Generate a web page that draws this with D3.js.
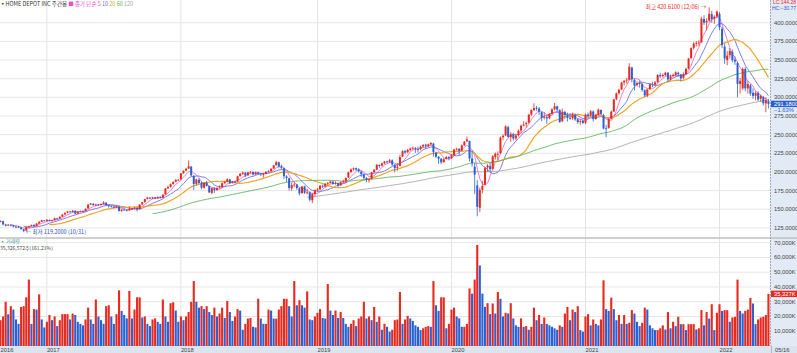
<!DOCTYPE html>
<html><head><meta charset="utf-8">
<script src="https://cdn.jsdelivr.net/npm/d3@7"></script>
<style>
body{margin:0;background:#fff;}
svg{display:block;}
.ax{font-family:"Liberation Sans Narrow","Liberation Sans",sans-serif;font-size:5.8px;fill:#444;}
.kr{font-family:"Noto Sans CJK KR","Noto Sans",sans-serif;font-size:6px;}
</style>
</head><body>
<svg id="c" width="797" height="353"></svg>
<script>
// ---------- DATA (weekly, HOME DEPOT INC) ----------
const startDate = "2016-08-29";
const opens = [
133.0,134.0,129.5,128.0,129.0,128.5,126.6,126.3,125.5,123.0,
121.5,126.0,127.4,128.8,127.6,130.8,133.2,135.0,134.2,135.6,
134.5,135.4,137.8,137.6,140.0,143.0,145.2,147.0,146.3,148.0,
144.2,146.9,147.5,147.4,151.0,156.2,157.5,155.4,156.2,155.5,
157.0,158.8,155.5,154.0,153.5,152.3,153.8,147.7,149.5,149.2,
148.5,150.5,151.0,152.0,149.8,156.4,159.5,163.7,165.5,164.4,
166.0,164.6,166.4,165.5,169.8,178.0,180.0,183.8,186.8,189.3,
190.0,198.2,201.8,204.5,207.0,194.5,184.0,189.5,185.5,179.0,
185.5,181.0,172.0,178.0,175.8,178.5,179.5,185.0,186.8,190.0,
185.0,187.0,187.0,194.5,197.5,199.0,195.5,199.6,200.0,196.8,
199.5,197.8,196.5,197.5,200.2,201.0,204.5,209.0,213.0,207.0,
205.0,194.0,191.5,178.0,182.8,183.0,178.0,171.5,180.5,172.0,
172.5,162.0,170.5,175.2,176.5,181.5,180.5,184.2,185.0,187.0,
184.0,185.0,182.0,186.5,187.5,192.5,199.8,203.5,205.0,203.5,
200.5,196.0,192.0,189.5,190.5,199.5,203.0,209.5,208.5,211.5,
214.0,213.5,215.5,209.0,205.5,208.0,220.5,228.0,226.5,229.5,
231.5,232.0,230.5,230.5,234.0,236.5,235.0,237.0,238.0,226.0,
220.5,217.5,213.0,217.5,220.0,218.5,222.5,230.0,231.0,228.5,
235.5,241.0,241.5,218.0,207.0,182.0,152.0,176.0,183.0,206.0,
208.0,204.0,220.0,224.0,225.0,246.5,249.0,260.0,246.5,250.5,
245.0,249.5,255.5,262.0,264.0,266.0,277.0,283.0,286.0,285.0,
280.0,273.0,273.5,272.0,278.0,284.0,288.0,283.0,268.0,280.5,
276.0,272.0,272.0,276.5,270.5,267.0,268.5,266.0,277.0,275.5,
281.0,271.0,276.5,283.0,276.0,258.5,259.0,271.5,281.0,297.5,
305.5,310.5,320.0,322.5,323.5,340.0,323.5,316.5,319.0,318.0,
309.5,302.5,311.0,317.5,317.0,320.5,330.0,328.5,330.0,333.0,
324.0,328.5,330.0,333.0,330.5,326.0,331.0,338.5,352.5,366.5,
372.0,373.0,374.0,405.0,400.5,403.0,411.5,405.5,408.5,412.0,
392.0,368.0,350.0,356.5,361.0,350.5,346.0,318.0,312.0,338.0,
312.0,316.0,306.0,302.0,306.0,298.0,300.0,292.0,295.0];
const highs = [
135.0,134.5,130.5,130.3,129.9,129.0,128.0,127.5,126.0,123.8,
127.0,128.0,129.5,130.0,131.5,134.5,135.8,135.5,136.9,136.4,
136.0,138.8,138.5,140.5,143.5,145.9,147.5,147.8,148.8,148.5,
147.5,148.3,148.6,151.0,156.9,158.3,158.0,157.5,157.0,157.8,
160.8,159.5,156.0,155.2,154.5,155.0,154.0,150.2,151.0,150.0,
153.5,151.8,152.8,152.4,156.6,160.0,164.0,166.8,166.5,166.5,
166.4,167.2,167.6,170.5,178.5,181.6,184.5,187.4,190.2,190.7,
198.5,202.0,205.5,215.4,208.0,196.0,191.0,191.5,187.0,186.0,
188.0,182.0,178.8,179.5,179.5,182.0,186.0,188.0,191.5,191.0,
188.0,188.5,195.0,198.5,200.5,200.0,200.3,201.2,200.6,200.5,
200.3,198.5,199.0,201.0,202.5,205.0,209.5,215.0,214.0,210.0,
205.5,195.5,192.5,186.0,186.8,184.0,179.0,181.0,181.5,177.5,
174.0,171.5,176.5,178.5,182.5,183.0,185.0,186.5,188.5,188.0,
187.5,185.5,187.0,189.5,192.5,200.5,204.5,206.0,206.0,205.0,
201.5,198.0,193.0,191.5,200.0,204.0,210.5,210.0,212.5,214.8,
215.0,217.5,217.0,210.5,212.0,223.0,229.0,229.5,231.0,233.0,
234.0,233.5,234.0,235.5,237.5,237.8,238.0,239.8,239.0,227.0,
221.5,219.0,218.5,221.5,221.5,224.0,231.0,232.5,232.0,237.0,
241.5,247.4,242.0,227.5,212.0,189.0,179.0,188.0,206.5,210.5,
212.0,222.5,226.0,227.5,247.5,250.5,262.5,262.0,253.5,252.5,
251.0,257.0,263.5,268.0,267.5,278.0,284.0,292.0,288.5,287.0,
281.0,280.0,275.5,279.0,285.5,292.5,289.0,284.0,285.0,282.0,
279.5,278.5,279.5,278.0,272.0,271.0,270.0,278.5,279.5,283.0,
282.5,278.0,285.0,284.0,278.0,263.0,272.0,282.5,298.0,306.5,
311.5,321.0,323.5,326.0,345.7,341.0,325.0,321.5,322.5,319.0,
311.0,311.5,318.5,321.0,322.0,331.0,333.0,332.0,334.5,334.0,
330.5,332.0,335.0,334.5,331.5,333.5,340.0,353.0,367.0,374.0,
375.5,376.5,408.0,410.0,406.0,420.61,416.0,410.0,416.5,414.5,
395.0,372.0,362.0,366.0,364.0,355.0,348.0,326.0,340.0,340.5,
322.0,318.0,312.0,308.0,308.0,304.0,302.0,300.0,298.0];
const lows = [
132.5,128.5,126.8,127.5,127.2,125.8,124.5,124.8,122.5,119.2,
121.0,125.0,126.8,126.5,127.0,130.2,132.8,133.6,133.5,133.8,
133.5,135.0,136.0,137.0,139.5,142.0,144.5,145.5,145.8,143.5,
143.8,146.0,146.5,147.0,150.8,155.6,154.8,153.8,154.5,155.0,
156.5,154.5,152.5,152.6,151.0,151.6,146.9,146.5,148.2,146.8,
148.0,149.0,150.2,146.9,149.5,156.0,158.8,163.0,163.5,163.8,
163.3,164.0,164.5,164.8,169.5,177.0,179.0,182.8,186.0,188.5,
189.8,197.5,201.0,204.0,194.0,175.8,181.5,184.0,176.5,177.5,
180.5,171.5,170.0,171.8,174.6,177.5,178.8,184.0,186.0,183.8,
184.5,184.8,186.5,193.8,196.0,193.0,194.5,198.0,195.5,196.0,
196.5,194.5,192.5,197.0,199.5,200.5,204.0,208.5,206.0,203.5,
190.5,186.5,175.0,174.5,180.0,176.0,168.5,171.0,170.5,170.0,
160.5,158.1,167.0,173.5,176.0,178.5,179.0,182.0,184.5,183.0,
183.0,179.5,181.5,185.0,185.5,192.0,199.0,201.5,201.5,199.0,
193.5,190.0,186.0,185.5,190.0,198.8,202.5,205.5,207.5,210.5,
211.5,212.0,208.0,199.5,201.5,207.5,220.0,223.5,225.0,228.0,
229.5,225.5,226.0,229.0,232.5,231.5,233.0,235.5,220.5,218.5,
211.0,210.5,212.5,217.0,215.5,217.5,221.5,228.5,222.5,228.0,
235.0,240.0,214.0,207.0,170.5,140.6,146.0,171.0,182.0,200.0,
199.5,203.0,216.5,215.5,224.5,243.0,248.0,246.0,240.5,242.0,
242.5,247.5,252.0,261.0,259.5,265.0,275.0,281.5,282.0,276.5,
268.0,270.5,264.5,270.5,276.5,282.5,281.0,266.0,267.0,271.0,
267.5,270.0,269.5,268.5,264.5,263.5,264.5,264.0,272.5,274.5,
267.5,270.0,275.5,276.5,257.0,246.6,258.0,270.5,280.5,296.0,
303.5,309.5,316.0,318.5,323.0,320.0,309.0,314.5,313.0,307.5,
300.5,300.0,310.0,313.5,315.5,319.5,326.0,326.5,328.0,320.5,
322.5,326.5,328.0,328.0,321.5,324.0,330.0,337.5,351.5,364.0,
368.0,369.0,373.0,397.0,390.0,401.0,400.0,398.5,406.0,390.0,
366.0,345.0,343.0,352.0,347.0,343.5,300.0,305.0,310.0,308.0,
305.0,302.0,298.0,296.0,295.0,294.0,289.0,280.0,285.0];
const closes = [
134.3,129.6,127.9,129.3,128.6,126.7,126.4,125.6,123.3,120.9,
125.9,127.2,128.9,127.5,130.7,133.0,135.2,134.1,135.8,134.5,
135.2,137.8,137.5,139.9,142.9,145.0,147.1,146.2,148.0,144.1,
146.8,147.6,147.3,150.6,156.1,157.6,155.5,156.0,155.4,156.9,
158.9,155.6,154.0,153.4,152.2,153.9,147.6,149.4,149.2,148.4,
150.4,151.0,152.2,149.7,156.3,159.4,163.6,165.6,164.3,165.9,
164.5,166.3,165.5,169.5,177.9,179.8,183.6,186.5,189.4,189.5,
198.1,201.5,204.3,207.6,195.4,183.8,189.9,185.1,178.8,185.5,
181.1,172.6,178.2,175.5,178.3,179.2,184.8,186.5,190.1,184.9,
187.2,186.6,194.2,197.6,199.1,195.1,199.5,200.2,196.6,199.6,
197.7,196.8,197.4,200.0,200.9,204.2,208.8,213.2,207.2,205.5,
194.3,192.0,178.5,182.6,183.0,178.4,171.3,180.3,172.1,172.5,
162.8,170.6,175.0,176.4,181.5,180.3,184.1,185.3,187.2,183.9,
185.1,181.9,186.2,187.5,191.9,199.5,203.4,204.9,203.1,201.0,
197.0,192.0,189.6,189.8,199.4,202.8,209.5,208.0,211.6,213.9,
213.0,215.6,210.0,205.3,207.0,220.0,227.8,226.0,229.5,231.2,
232.4,231.0,230.1,233.8,236.1,234.9,237.0,238.7,226.5,220.5,
217.7,212.9,217.0,220.0,218.3,222.4,230.0,230.9,228.1,235.5,
240.5,243.5,218.0,212.0,196.5,153.2,176.0,181.3,205.0,208.6,
203.5,221.0,224.5,224.1,246.0,248.4,261.0,247.0,250.5,244.8,
249.0,255.2,262.0,263.5,265.5,276.8,283.0,285.6,284.8,280.6,
272.6,273.8,271.7,277.7,283.9,288.0,283.6,266.7,280.1,276.3,
272.4,271.5,276.7,270.5,266.9,268.2,265.6,276.7,275.0,281.2,
270.8,276.5,283.5,278.0,258.2,258.0,271.0,280.8,297.3,305.3,
310.0,320.0,322.0,323.7,341.0,324.0,316.0,319.0,318.0,310.0,
302.5,310.5,317.5,317.0,320.0,330.0,328.2,330.0,333.0,324.0,
328.0,330.0,333.5,331.0,325.5,331.0,338.0,352.0,366.0,372.0,
373.0,373.5,405.5,400.0,402.5,412.0,405.0,408.0,415.0,394.0,
370.0,352.0,356.0,362.0,350.0,348.0,318.0,322.0,338.0,312.0,
318.0,305.0,302.0,306.0,297.0,302.0,292.0,296.0,291.18];
const volumes = [ // thousands of shares
17500,20000,30000,21500,27000,24700,18000,15000,26500,27000,
33000,45000,15000,25000,24700,35000,18000,12600,16400,21000,
17500,20000,13500,17500,21600,21600,21600,18000,22000,21000,
16400,15000,14000,18000,26000,18000,15000,31500,20000,17500,
15000,27000,27600,20000,15000,21600,37700,23800,21000,18700,
37300,18700,24700,33000,33000,19300,20000,15000,13500,18000,
18700,16400,15000,31500,20000,16400,29000,29600,24000,16400,
20000,17500,20000,
23000,30000,44000,30000,26000,27000,25000,27000,23000,21000,
26000,20000,22000,26000,19000,30500,23000,17000,20000,25000,
24000,11000,15000,18600,19000,13000,12600,32000,18600,15000,
15000,24700,24000,18600,18600,24700,27000,32000,32000,27000,
20000,44000,27600,31000,27600,26000,37000,18000,17500,20000,
22500,25000,19000,18600,42000,24000,21000,24000,19000,23000,
19000,15000,13000,15000,17500,13500,18600,20000,30000,18600,
20000,17500,26500,16400,20000,11000,
15000,13000,9700,11000,17500,18000,36600,15000,18000,20400,
18700,17000,14000,13000,10800,12000,13000,13500,13000,44000,
27600,23800,33000,33000,12000,15000,24700,26000,20000,18700,
13000,13000,
15000,39000,35500,45000,68500,54600,35500,26500,29000,21600,
28800,22000,36600,32000,20000,22500,22000,29000,18700,14000,
13000,18700,13000,13500,11000,13000,26000,17500,21000,15000,
19300,15000,14000,13000,12000,11000,14000,13000,22000,26500,17500,24700,
23000,27000,10800,9700,20000,21600,14000,18000,15000,14000,
18000,44500,25000,23800,32800,25000,17500,21000,15000,21000,
15000,15700,24300,22000,16400,13500,15700,26000,24700,14000,
12000,10800,10800,12000,14000,11200,23000,12000,16400,13500,
19800,14800,14800,10800,14800,14800,14800,11200,12000,24300,
14000,23000,18600,28300,10800,22500,28300,23800,24300,24300,
16400,19300,19800,45000,23800,22000,23800,24700,32600,28800,
14800,18000,19300,19800,21000,35326.572];
const priceTicks = [125,150,175,200,225,250,275,300,325,350,375,400];
const volumeTicks = [10000,20000,30000,40000,50000,60000,70000];
const maPeriods = [5,10,20,60,120];
const maColors = ["#ee6fcf","#6f6fe3","#f0a526","#62b862","#a9a9a9"];
const legendTitle = "HOME DEPOT INC";
const highNote = "최고 420.6100 (12/06)";
const lowNote = "최저 119.2000 (10/31)";
const lastDateLabel = "05/16";
const volumeRatioText = "(161.21%)";

// ---------- DRAW ----------
const svg = d3.select("#c");
const n = closes.length;
const plotR = 770, priceBot = 237.2, volBot = 346, axisTop = 345.5;
const x = d3.scaleLinear().domain([0, n - 1]).range([0.5, 0.5 + (n - 1) * 2.577]);
const y = d3.scaleLinear().domain([112.5, 430.5]).range([priceBot, 0]);
const yv = d3.scaleLinear().domain([0, 70000]).range([volBot, 242.7]);
const parse = d3.timeParse("%Y-%m-%d");
const d0 = parse(startDate);
const dates = d3.range(n).map(i => d3.timeDay.offset(d0, 7 * i));

if ([opens, highs, lows, volumes].some(a => a.length !== n)) {
  svg.append("text").attr("x", 300).attr("y", 150).attr("fill", "red")
    .text("len " + [opens.length, highs.length, lows.length, closes.length, volumes.length].join(","));
}

// backgrounds
svg.append("rect").attr("x", 0).attr("y", 0).attr("width", 797).attr("height", 353).attr("fill", "#fff");
svg.append("rect").attr("x", plotR).attr("y", 0).attr("width", 797 - plotR).attr("height", axisTop).attr("fill", "#e2eaf5");
svg.append("rect").attr("x", 0).attr("y", axisTop).attr("width", 797).attr("height", 353 - axisTop).attr("fill", "#dbe4ef");

// grid lines
const yearIdx = d3.range(1, n).filter(i => dates[i].getFullYear() !== dates[i - 1].getFullYear());
const g = svg.append("g");
g.selectAll("line.vg").data(yearIdx).join("line")
  .attr("x1", i => x(i)).attr("x2", i => x(i)).attr("y1", 0).attr("y2", axisTop)
  .attr("stroke", "#e3e3e3").attr("stroke-width", 1);
g.selectAll("line.hg").data(priceTicks).join("line")
  .attr("x1", 0).attr("x2", plotR).attr("y1", d => y(d)).attr("y2", d => y(d))
  .attr("stroke", "#e6e6e6").attr("stroke-width", 1);
g.selectAll("line.vgv").data(volumeTicks).join("line")
  .attr("x1", 0).attr("x2", plotR).attr("y1", d => yv(d)).attr("y2", d => yv(d))
  .attr("stroke", "#e6e6e6").attr("stroke-width", 1);

// panel separator
svg.append("rect").attr("x", 0).attr("y", 237.2).attr("width", 797).attr("height", 1.6).attr("fill", "#c4c4c4");

// volume bars (red when volume rises vs previous week)
const upC = "#e8291f", dnC = "#2a62d4";
svg.append("g").selectAll("rect").data(volumes).join("rect")
  .attr("x", (d, i) => x(i) - 1.05).attr("width", 2.1)
  .attr("y", d => yv(d)).attr("height", d => volBot - yv(d))
  .attr("fill", (d, i) => (i === 0 || d >= volumes[i - 1]) ? upC : dnC);

// moving averages
maPeriods.forEach((p, k) => {
  const pts = [];
  for (let i = p - 1; i < n; i++) pts.push([i, d3.mean(closes.slice(i - p + 1, i + 1))]);
  svg.append("path").datum(pts)
    .attr("d", d3.line().x(d => x(d[0])).y(d => y(d[1])))
    .attr("fill", "none").attr("stroke", maColors[k]).attr("stroke-width", k === 2 ? 1.2 : 0.9);
});

// candles
const cg = svg.append("g");
d3.range(n).forEach(i => {
  const up = closes[i] >= opens[i];
  const col = up ? upC : dnC;
  cg.append("line").attr("x1", x(i)).attr("x2", x(i)).attr("y1", y(highs[i])).attr("y2", y(lows[i]))
    .attr("stroke", col).attr("stroke-width", 0.8);
  const top = y(Math.max(opens[i], closes[i])), bot = y(Math.min(opens[i], closes[i]));
  cg.append("rect").attr("x", x(i) - 1).attr("width", 2).attr("y", top).attr("height", Math.max(0.8, bot - top)).attr("fill", col);
});

// right axes
svg.append("line").attr("x1", plotR + 0.5).attr("x2", plotR + 0.5).attr("y1", 0).attr("y2", axisTop)
  .attr("stroke", "#8d9bb0").attr("stroke-width", 0.8).attr("stroke-dasharray", "2,1");
svg.append("g").selectAll("text").data(priceTicks).join("text").attr("class", "ax")
  .attr("x", 774).attr("y", d => y(d) + 2).text(d => d3.format(".4f")(d));
svg.append("g").selectAll("text").data(volumeTicks).join("text").attr("class", "ax")
  .attr("x", 774).attr("y", d => yv(d) + 2).text(d => d3.format(",")(d) + "K");

// last price label
const lastC = closes[n - 1];
svg.append("rect").attr("x", plotR + 1).attr("y", y(lastC) - 3.2).attr("width", 797 - plotR - 1).attr("height", 6.4).attr("fill", "#2b5fcf");
svg.append("text").attr("class", "ax").attr("x", 774).attr("y", y(lastC) + 2).style("fill", "#fff").text(d3.format(".4f")(lastC));
svg.append("text").attr("class", "ax").attr("x", 774).attr("y", y(lastC) + 8).style("fill", "#2b5fcf")
  .text(d3.format(".2%")((lastC - closes[n - 2]) / closes[n - 2]));
// last volume label
const lastV = volumes[n - 1];
svg.append("rect").attr("x", plotR + 1).attr("y", yv(lastV) - 3.2).attr("width", 797 - plotR - 1).attr("height", 6.4).attr("fill", "#e8291f");
svg.append("text").attr("class", "ax").attr("x", 774).attr("y", yv(lastV) + 2).style("fill", "#fff").text(d3.format(",")(Math.round(lastV)) + "K");

// top-right high/low comparison
svg.append("text").attr("class", "ax").attr("x", 796).attr("y", 4.3).attr("text-anchor", "end")
  .style("fill", "#e8291f").style("font-size", "5px")
  .text("LC:" + d3.format(".2f")((lastC / d3.min(lows) - 1) * 100));
svg.append("text").attr("class", "ax").attr("x", 796).attr("y", 9.5).attr("text-anchor", "end")
  .style("fill", "#2b5fcf").style("font-size", "5px")
  .text("HC:" + d3.format(".2f")((lastC / d3.max(highs) - 1) * 100));

// x axis labels
svg.append("text").attr("class", "ax").attr("x", 0.5).attr("y", 351.5).text(dates[0].getFullYear());
svg.append("g").selectAll("text").data(yearIdx).join("text").attr("class", "ax")
  .attr("x", i => x(i)).attr("y", 351.5).text(i => dates[i].getFullYear());
svg.append("line").attr("x1", plotR + 1.5).attr("x2", plotR + 1.5).attr("y1", axisTop).attr("y2", 353).attr("stroke", "#8d9bb0").attr("stroke-width", 0.6);
svg.append("text").attr("class", "ax").attr("x", 775).attr("y", 351.5).text(lastDateLabel);

// high / low notes
const hiI = d3.maxIndex(highs), loI = d3.minIndex(lows);
svg.append("text").attr("class", "kr").attr("x", x(hiI) - 3).attr("y", y(highs[hiI]) + 2).attr("text-anchor", "end")
  .style("fill", "#e8291f").style("font-size", "5.5px").text(highNote + " →");
svg.append("text").attr("class", "kr").attr("x", x(loI) + 2).attr("y", y(lows[loI]) + 1.5)
  .style("fill", "#2b4fc0").style("font-size", "5.5px").text("← " + lowNote);

// legends
const lg = svg.append("text").attr("class", "kr").attr("x", 0).attr("y", 6).style("font-size", "5.5px");
lg.append("tspan").style("fill", "#333").text("▪" + legendTitle + "  주간봉 ");
lg.append("tspan").style("fill", "#ee4fbf").text("■ 종가 단순 5");
const lgCols = maColors.slice(1);
maPeriods.slice(1).forEach((p, k) => lg.append("tspan").style("fill", lgCols[k]).text("  " + p));

svg.append("text").attr("class", "kr").attr("x", 0).attr("y", 243.2).style("font-size", "5px")
  .style("fill", "#3a9aa0").text("▪ 거래량");
svg.append("text").attr("class", "kr").attr("x", 0).attr("y", 250).style("font-size", "5px").style("fill", "#444")
  .text(d3.format(",")(Math.round(lastV * 1000)) + "주" + volumeRatioText);
</script>
</body></html>
